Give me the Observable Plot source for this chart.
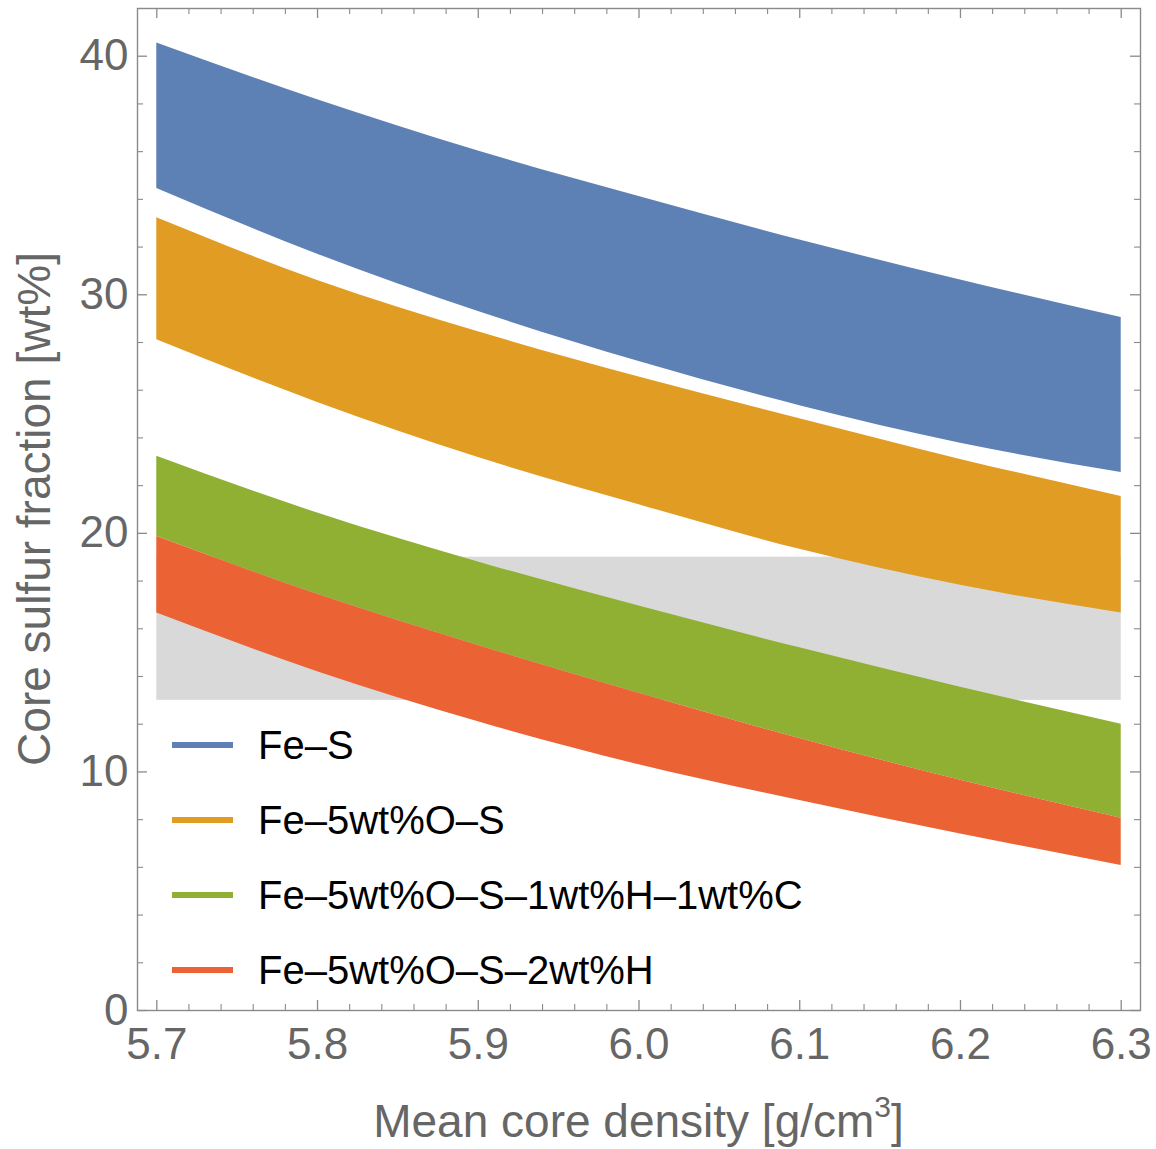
<!DOCTYPE html>
<html><head><meta charset="utf-8">
<script src="https://cdn.jsdelivr.net/npm/d3@7"></script>
<script src="https://cdn.jsdelivr.net/npm/@observablehq/plot@0.6"></script>
<style>body{margin:0;background:#fff}</style>
</head><body><div id="chart"></div>
<script>
// ---- data ----
const density = [5.7, 5.8, 5.9, 6.0, 6.1, 6.2, 6.3];
const seriesNames = ["Fe–S", "Fe–5wt%O–S", "Fe–5wt%O–S–1wt%H–1wt%C", "Fe–5wt%O–S–2wt%H"];
const feS_hi    = [40.55, 38.18, 36.03, 34.12, 32.3, 30.62, 29.05];
const feS_lo    = [34.45, 31.7, 29.3, 27.2, 25.35, 23.78, 22.55];
const feOS_hi   = [33.23, 30.6, 28.45, 26.55, 24.8, 23.1, 21.55];
const feOS_lo   = [28.12, 25.49, 23.18, 21.2, 19.33, 17.82, 16.66];
const feOSHC_hi = [23.23, 20.85, 18.8, 16.95, 15.2, 13.55, 12.0];
const feOSHC_lo = [19.87, 17.45, 15.3, 13.3, 11.4, 9.65, 8.06];
const feOSH_hi  = [19.87, 17.45, 15.3, 13.3, 11.4, 9.65, 8.06];
const feOSH_lo  = [16.66, 14.2, 12.1, 10.3, 8.8, 7.4, 6.08];
const bandColors = ["#5e81b5", "#e19c24", "#8fb032", "#eb6235"];
const grayX = [5.7, 6.3];
const grayY = [13, 19];
const xTickValues = [5.7, 5.8, 5.9, 6.0, 6.1, 6.2, 6.3];
const xTickLabels = ["5.7", "5.8", "5.9", "6.0", "6.1", "6.2", "6.3"];
const yTickValues = [0, 10, 20, 30, 40];
const yTickLabels = ["0", "10", "20", "30", "40"];
const xTitle = "Mean core density [g/cm";
const yTitle = "Core sulfur fraction [wt%]";

// ---- table ----
const his = [feS_hi, feOS_hi, feOSHC_hi, feOSH_hi];
const los = [feS_lo, feOS_lo, feOSHC_lo, feOSH_lo];
const rows = [];
seriesNames.forEach((s, k) => density.forEach((x, i) => rows.push({series: s, x, lo: los[k][i], hi: his[k][i]})));
const xMinor = d3.range(0, 31).map(i => +(5.7 + i * 0.02).toFixed(2)).filter(v => !xTickValues.some(t => Math.abs(t - v) < 1e-9));
const yMinor = d3.range(0, 43, 2).filter(v => !yTickValues.includes(v));

const W = 1156, H = 1149, mL = 137, mR = 16, mT = 8, mB = 139;
const fw = W - mL - mR, fh = H - mT - mB;
const frameColor = "#8a8a8a", textGray = "#666666";
const font = "Liberation Sans, Arial, Helvetica, sans-serif";

const plot = Plot.plot({
  width: W, height: H,
  marginLeft: mL, marginRight: mR, marginTop: mT, marginBottom: mB,
  x: {domain: [5.688, 6.312]},
  y: {domain: [0, 42]},
  color: {domain: seriesNames, range: bandColors},
  style: {fontFamily: font, background: "#fff", overflow: "visible"},
  marks: [
    Plot.rect([0], {x1: () => grayX[0], x2: () => grayX[1], y1: () => grayY[0], y2: () => grayY[1], fill: "#d9d9d9"}),
    Plot.areaY(rows, {x: "x", y1: "lo", y2: "hi", z: "series", fill: "series", curve: "monotone-x"}),
    Plot.frame({stroke: frameColor, strokeWidth: 1.4}),
    // inward ticks on all four sides
    Plot.ruleX(xTickValues, {x: d => d, insetTop: fh - 10, stroke: frameColor, strokeWidth: 1.3}),
    Plot.ruleX(xMinor, {x: d => d, insetTop: fh - 6, stroke: frameColor, strokeWidth: 1.1}),
    Plot.ruleX(xTickValues, {x: d => d, insetBottom: fh - 10, stroke: frameColor, strokeWidth: 1.3}),
    Plot.ruleX(xMinor, {x: d => d, insetBottom: fh - 6, stroke: frameColor, strokeWidth: 1.1}),
    Plot.ruleY(yTickValues, {y: d => d, insetRight: fw - 10, stroke: frameColor, strokeWidth: 1.3}),
    Plot.ruleY(yMinor, {y: d => d, insetRight: fw - 6, stroke: frameColor, strokeWidth: 1.1}),
    Plot.ruleY(yTickValues, {y: d => d, insetLeft: fw - 10, stroke: frameColor, strokeWidth: 1.3}),
    Plot.ruleY(yMinor, {y: d => d, insetLeft: fw - 6, stroke: frameColor, strokeWidth: 1.1}),
    Plot.axisX(xTickValues, {anchor: "bottom", tickSize: 0, tickPadding: 17, fontSize: 44, color: textGray,
      tickFormat: (d) => xTickLabels[xTickValues.indexOf(d)], label: null}),
    Plot.axisY(yTickValues, {anchor: "left", tickSize: 0, tickPadding: 9, fontSize: 44, color: textGray,
      tickFormat: (d) => yTickLabels[yTickValues.indexOf(d)], label: null})
  ]
});
document.getElementById("chart").appendChild(plot);

// ---- titles and legend overlay ----
const svg = d3.select(plot);
const xt = svg.append("text").attr("x", mL + fw / 2).attr("y", 1137).attr("text-anchor", "middle")
  .attr("fill", textGray).style("font-family", font).style("font-size", "46px");
xt.append("tspan").text(xTitle);
xt.append("tspan").attr("dy", -20).style("font-size", "30px").text("3");
xt.append("tspan").attr("dy", 20).text("]");
svg.append("text").attr("transform", `translate(50,${mT + fh / 2}) rotate(-90)`).attr("text-anchor", "middle")
  .attr("fill", textGray).style("font-family", font).style("font-size", "46px").text(yTitle);

const lg = svg.append("g");
seriesNames.forEach((s, i) => {
  const cy = 745 + 75 * i;
  lg.append("line").attr("x1", 172).attr("x2", 233).attr("y1", cy).attr("y2", cy)
    .attr("stroke", bandColors[i]).attr("stroke-width", 6);
  lg.append("text").attr("x", 258).attr("y", cy + 14).attr("fill", "#000").attr("text-anchor", "start")
    .style("font-family", font).style("font-size", "40px").text(s);
});
</script></body></html>
